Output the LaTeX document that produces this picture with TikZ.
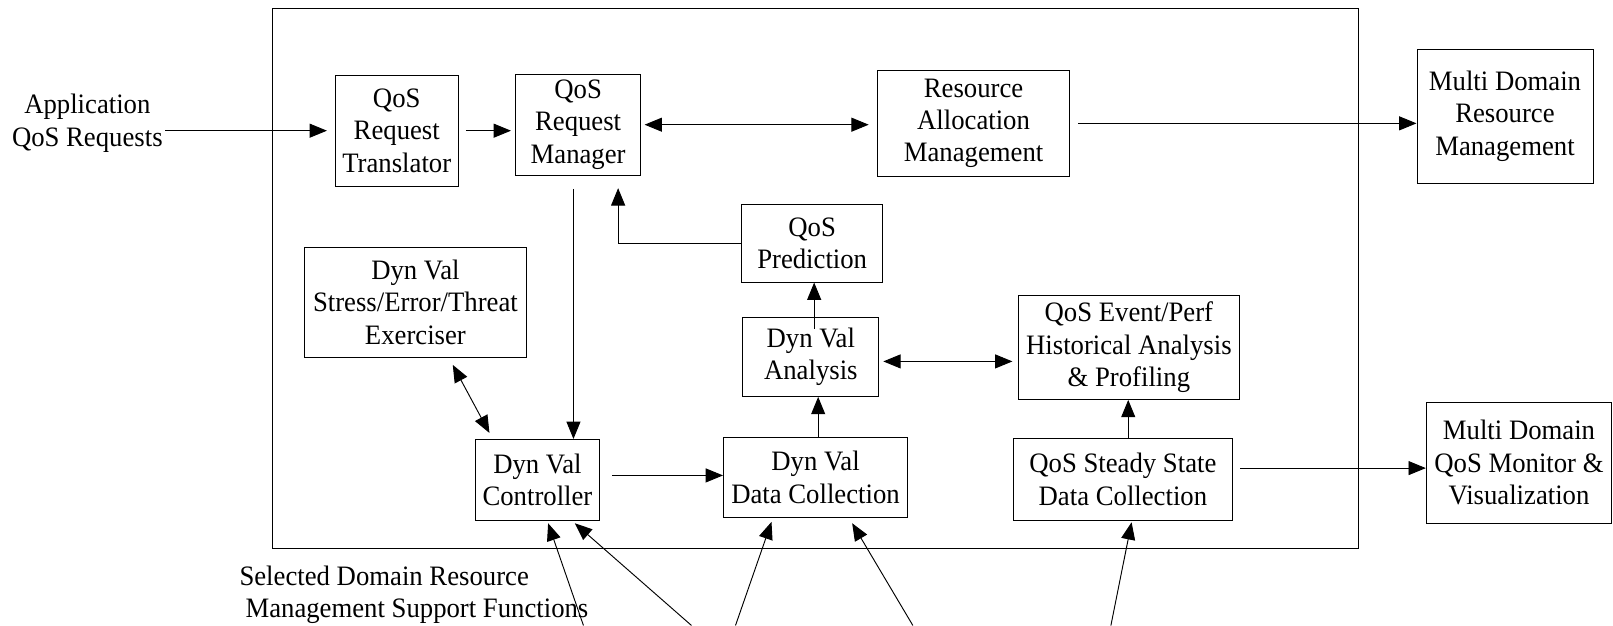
\documentclass[tikz,border=0pt]{standalone}
\usepackage{fontspec}
\setmainfont{Liberation Serif}[FakeStretch=0.95]
\usetikzlibrary{arrows.meta}
\tikzset{
  blk/.style={draw, align=center, inner sep=0pt, font=\fontsize{12}{13.8}\selectfont},
  txt/.style={align=center, inner sep=1pt, font=\fontsize{12}{13.8}\selectfont},
  >={Triangle[length=0.26cm,width=0.21cm]}, ->, line width=1.2pt
}

\begin{document}
\begin{tikzpicture}
    \useasboundingbox (0,0) rectangle (24.19,-9.38);
    \draw[-] (4.09,-0.12) rectangle (20.37,-8.22);

    \node[txt] (app) at (1.31,-1.85) {Application\\QoS Requests};
    \node[blk, minimum width=1.84cm, minimum height=1.67cm] (trans) at (5.95,-1.96) {QoS\\Request\\Translator};
    \node[blk, minimum width=1.88cm, minimum height=1.51cm] (mgr) at (8.67,-1.87) {QoS\\Request\\Manager};
    \node[blk, minimum width=2.89cm, minimum height=1.60cm] (ram) at (14.60,-1.85) {Resource\\Allocation\\Management};
    \node[blk, minimum width=2.64cm, minimum height=2.01cm] (mdrm) at (22.57,-1.74) {Multi Domain\\Resource\\Management};
    \node[blk, minimum width=2.11cm, minimum height=1.16cm] (pred) at (12.18,-3.65) {QoS\\Prediction};
    \node[blk, minimum width=3.32cm, minimum height=1.65cm] (exer) at (6.23,-4.53) {Dyn Val\\Stress/Error/Threat\\Exerciser};
    \node[blk, minimum width=2.04cm, minimum height=1.19cm] (anal) at (12.16,-5.35) {Dyn Val\\Analysis};
    \node[blk, minimum width=3.32cm, minimum height=1.56cm] (hist) at (16.93,-5.21) {QoS Event/Perf\\Historical Analysis\\\& Profiling};
    \node[blk, minimum width=1.87cm, minimum height=1.22cm] (ctrl) at (8.06,-7.20) {Dyn Val\\Controller};
    \node[blk, minimum width=2.76cm, minimum height=1.20cm] (dcol) at (12.23,-7.16) {Dyn Val\\Data Collection};
    \node[blk, minimum width=3.29cm, minimum height=1.23cm] (ssdc) at (16.84,-7.19) {QoS Steady State\\Data Collection};
    \node[blk, minimum width=2.78cm, minimum height=1.81cm] (mdqm) at (22.78,-6.94) {Multi Domain\\QoS Monitor \&\\Visualization};
    \node[txt, anchor=west, align=left] (sel) at (3.55,-8.92) {Selected Domain Resource\\\hspace{0.09cm}Management Support Functions};

    % support functions below the picture
    \coordinate (s1) at (8.75,-9.38);
    \coordinate (s2) at (10.37,-9.38);
    \coordinate (s3) at (11.03,-9.38);
    \coordinate (s4) at (13.69,-9.38);
    \coordinate (s5) at (16.66,-9.38);

    \draw[shorten >=0.19cm] (pred.west) -| ([xshift=0.6cm]mgr.south);
    \draw[<->] ([xshift=0.56cm,yshift=-0.11cm]exer.south) -- ([xshift=-0.72cm,yshift=0.09cm]ctrl.north);

    \draw
      (app.east |- trans.west) edge[shorten >=0.12cm] (trans.west)
      (trans.east)  edge[shorten <=0.11cm, shorten >=0.06cm] (trans.east -| mgr.west)
      (mgr.east)    edge[<->, shorten <=0.05cm, shorten >=0.12cm] (mgr.east -| ram.west)
      (ram.east)    edge[shorten <=0.12cm] (ram.east -| mdrm.west)
      ([xshift=-0.07cm,yshift=-0.2cm]mgr.south) edge ([xshift=-0.07cm]mgr.south |- ctrl.north)
      ([yshift=0.07cm]ctrl.east) edge[shorten <=0.18cm] ([yshift=0.07cm]ctrl.east -| dcol.west)
      ([xshift=0.04cm]dcol.north) edge ([xshift=0.04cm]dcol.north |- anal.south)
      ([xshift=0.05cm,yshift=-0.18cm]anal.north) edge ([xshift=0.05cm]anal.north |- pred.south)
      ([yshift=-0.07cm]anal.east) edge[<->, shorten <=0.06cm, shorten >=0.08cm] ([yshift=-0.07cm]anal.east -| hist.west)
      ([xshift=0.08cm]ssdc.north) edge ([xshift=0.08cm]ssdc.north |- hist.south)
      ([yshift=0.17cm]ssdc.east) edge[shorten <=0.11cm] ([yshift=0.17cm]ssdc.east -| mdqm.west)
      (s1) edge ([xshift=0.16cm,yshift=-0.03cm]ctrl.south)
      (s2) edge ([xshift=0.56cm,yshift=-0.03cm]ctrl.south)
      (s3) edge ([xshift=-0.66cm,yshift=-0.06cm]dcol.south)
      (s4) edge ([xshift=0.55cm,yshift=-0.08cm]dcol.south)
      (s5) edge ([xshift=0.13cm,yshift=-0.02cm]ssdc.south);
\end{tikzpicture}
\end{document}
